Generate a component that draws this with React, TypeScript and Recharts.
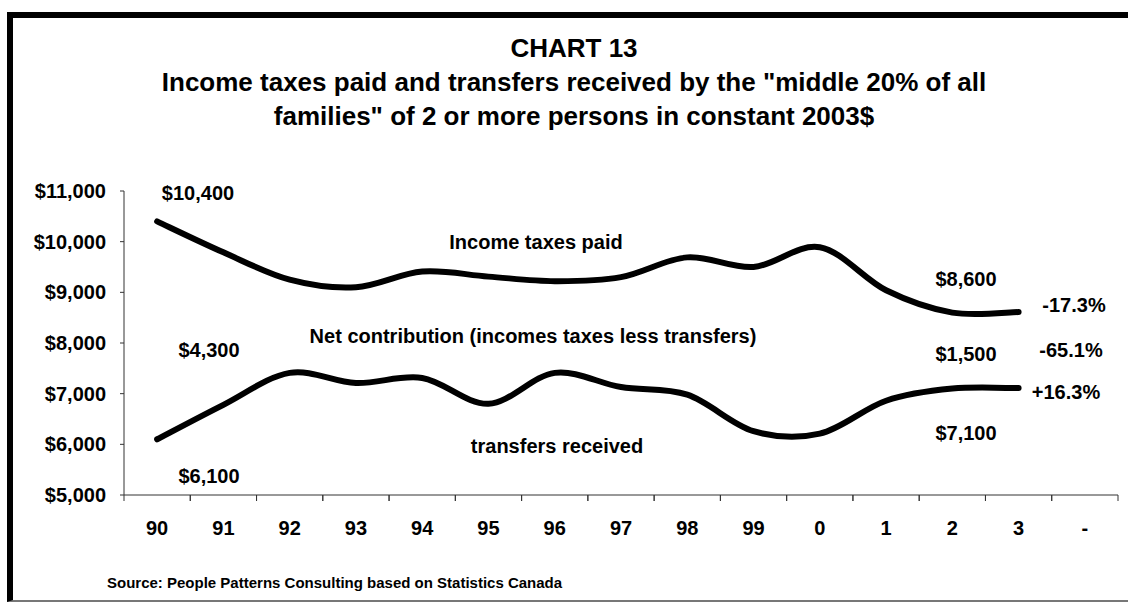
import React from "react";
import { LineChart, Line, XAxis, YAxis } from "recharts";

const years = ["90", "91", "92", "93", "94", "95", "96", "97", "98", "99", "0", "1", "2", "3", "-"];
const taxesPaid = [10400, 9790, 9250, 9100, 9410, 9310, 9220, 9300, 9690, 9500, 9890, 9040, 8600, 8610, null];
const transfersReceived = [6100, 6780, 7410, 7210, 7310, 6800, 7410, 7130, 6980, 6260, 6210, 6860, 7100, 7110, null];
const yTicks = [5000, 6000, 7000, 8000, 9000, 10000, 11000];

const notes = [
  { text: "$10,400", x: 198, y: 193 },
  { text: "Income taxes paid", x: 536, y: 242 },
  { text: "$8,600", x: 966, y: 279 },
  { text: "-17.3%", x: 1074, y: 305 },
  { text: "Net contribution (incomes taxes less transfers)", x: 533, y: 336 },
  { text: "$4,300", x: 209, y: 350 },
  { text: "$1,500", x: 966, y: 354 },
  { text: "-65.1%", x: 1071, y: 350 },
  { text: "+16.3%", x: 1066, y: 392 },
  { text: "transfers received", x: 557, y: 446 },
  { text: "$7,100", x: 966, y: 433 },
  { text: "$6,100", x: 209, y: 476 },
];

const data = years.map((year, i) => ({
  year,
  taxes: taxesPaid[i],
  transfers: transfersReceived[i],
}));

const W = 1128;
const H = 604;
const margin = { top: 191, right: 10, left: 0, bottom: 69 };
const Y_AXIS_W = 124;
const PLOT_W = W - margin.left - margin.right - Y_AXIS_W;
const FONT = "'Liberation Sans', Arial, Helvetica, sans-serif";

// excel-style smoothing (catmull-rom through every point)
function excelSmooth(context: any) {
  let pts: number[][] = [];
  return {
    areaStart() {},
    areaEnd() {},
    lineStart() {
      pts = [];
    },
    point(x: number, y: number) {
      pts.push([+x, +y]);
    },
    lineEnd() {
      if (!pts.length) return;
      context.moveTo(pts[0][0], pts[0][1]);
      for (let i = 0; i < pts.length - 1; i++) {
        const p0 = pts[i - 1] || pts[i];
        const p1 = pts[i];
        const p2 = pts[i + 1];
        const p3 = pts[i + 2] || p2;
        context.bezierCurveTo(
          p1[0] + (p2[0] - p0[0]) / 6,
          p1[1] + (p2[1] - p0[1]) / 6,
          p2[0] - (p3[0] - p1[0]) / 6,
          p2[1] - (p3[1] - p1[1]) / 6,
          p2[0],
          p2[1]
        );
      }
    },
  };
}

const XTick = (props: any) => {
  const { x, y, payload } = props;
  const half = PLOT_W / years.length / 2;
  return (
    <g>
      <line x1={x - half} x2={x - half} y1={y} y2={y + 6} stroke="#333" />
      <line x1={x + half} x2={x + half} y1={y} y2={y + 6} stroke="#333" />
      <text x={x} y={y + 40} textAnchor="middle" fontSize={20} fontWeight="bold" fill="#000" fontFamily={FONT}>
        {payload.value}
      </text>
    </g>
  );
};

export default function App() {
  return (
    <div style={{ position: "absolute", left: 0, top: 0, width: W, height: H, background: "#fff", overflow: "hidden", fontFamily: FONT }}>
      <div
        style={{
          position: "absolute",
          left: 7,
          top: 12,
          width: 1300,
          height: 582,
          borderTop: "6px solid #000",
          borderLeft: "6px solid #000",
          borderBottom: "2px solid #777",
        }}
      />
      <div
        style={{
          position: "absolute",
          left: 0,
          top: 31,
          width: 1148,
          textAlign: "center",
          fontSize: 26,
          fontWeight: "bold",
          lineHeight: "34px",
        }}
      >
        <div>CHART 13</div>
        <div>Income taxes paid and transfers received by the "middle 20% of all</div>
        <div>families" of 2 or more persons in constant 2003$</div>
      </div>

      <div style={{ position: "absolute", left: 0, top: 0 }}>
        <LineChart width={W} height={H} data={data} margin={margin}>
          <XAxis
            dataKey="year"
            scale="band"
            height={40}
            axisLine={{ stroke: "#333" }}
            tickLine={false}
            tickSize={0}
            tickMargin={0}
            interval={0}
            tick={<XTick />}
          />
          <YAxis
            width={Y_AXIS_W}
            domain={[5000, 11000]}
            ticks={yTicks}
            interval={0}
            axisLine={{ stroke: "#333" }}
            tickLine={{ stroke: "#333" }}
            tickSize={4}
            tickMargin={14}
            tickFormatter={(v: number) => `$${v.toLocaleString("en-US")}`}
            tick={{ fontSize: 20, fontWeight: "bold", fill: "#000", fontFamily: FONT }}
          />
          <Line
            dataKey="taxes"
            type={excelSmooth as any}
            stroke="#000"
            strokeWidth={6}
            strokeLinecap="round"
            dot={false}
            activeDot={false}
            isAnimationActive={false}
          />
          <Line
            dataKey="transfers"
            type={excelSmooth as any}
            stroke="#000"
            strokeWidth={6}
            strokeLinecap="round"
            dot={false}
            activeDot={false}
            isAnimationActive={false}
          />
        </LineChart>
      </div>

      {notes.map((n) => (
        <div
          key={n.text}
          style={{
            position: "absolute",
            left: n.x,
            top: n.y,
            transform: "translate(-50%, -50%)",
            whiteSpace: "nowrap",
            fontSize: 20,
            fontWeight: "bold",
            lineHeight: "20px",
          }}
        >
          {n.text}
        </div>
      ))}

      <div style={{ position: "absolute", left: 107, top: 574, fontSize: 15, fontWeight: "bold", whiteSpace: "nowrap" }}>
        Source: People Patterns Consulting based on Statistics Canada
      </div>
    </div>
  );
}
